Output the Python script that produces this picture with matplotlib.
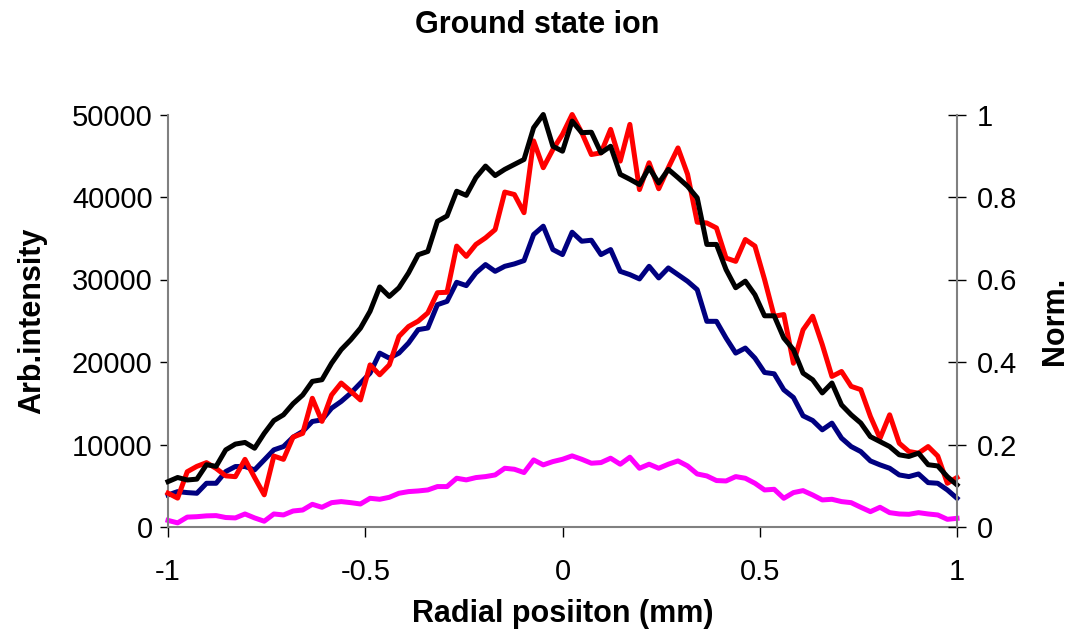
import matplotlib
matplotlib.use("Agg")
import matplotlib.pyplot as plt
import numpy as np
from matplotlib.ticker import FuncFormatter

plt.rcParams["font.family"] = ["Liberation Sans", "DejaVu Sans"]
plt.rcParams["axes.unicode_minus"] = False

# Radial scan: 83 equally spaced positions from -1 to 1 mm
radial_mm = np.linspace(-1, 1, 83)

# Arb. intensity (left axis)
navy_counts = [
    3880, 4290, 4170, 4090, 5300, 5300, 6720, 7330, 7330, 6920,
    8130, 9350, 9750, 10890, 11580, 12790, 12990, 14400, 15220, 16230,
    17440, 18650, 21080, 20470, 21080, 22300, 23920, 24120, 26950, 27350,
    29660, 29260, 30800, 31810, 30990, 31600, 31890, 32290, 35450, 36460,
    33630, 33020, 35730, 34640, 34760, 33020, 33630, 30990, 30590, 30070,
    31600, 30190, 31400, 30590, 29780, 28770, 24930, 24930, 22900, 21080,
    21690, 20470, 18730, 18570, 16630, 15700, 13480, 12910, 11780, 12590,
    10770, 9750, 9140, 8010, 7530, 7120, 6310, 6110, 6430, 5380,
    5300, 4490, 3480,
]
magenta_counts = [
    800, 500, 1200, 1250, 1350, 1380, 1150, 1100, 1580, 1100,
    700, 1580, 1460, 1940, 2060, 2750, 2390, 2950, 3080, 2950,
    2790, 3480, 3360, 3600, 4090, 4290, 4370, 4490, 4900, 4900,
    5910, 5710, 5990, 6110, 6310, 7120, 7000, 6600, 8130, 7530,
    7930, 8210, 8620, 8210, 7730, 7810, 8340, 7610, 8460, 7120,
    7610, 7120, 7610, 8010, 7400, 6430, 6190, 5630, 5580, 6110,
    5910, 5300, 4490, 4570, 3480, 4170, 4410, 3880, 3280, 3360,
    3080, 2950, 2390, 1860, 2390, 1740, 1580, 1540, 1740, 1580,
    1460, 930, 1050,
]

# Normalised profiles (right axis)
red_norm = [
    0.082, 0.070, 0.134, 0.147, 0.156, 0.142, 0.124, 0.122, 0.164, 0.120,
    0.078, 0.172, 0.164, 0.218, 0.227, 0.312, 0.256, 0.320, 0.349, 0.329,
    0.308, 0.393, 0.369, 0.393, 0.462, 0.486, 0.499, 0.519, 0.568, 0.569,
    0.681, 0.656, 0.685, 0.701, 0.721, 0.812, 0.806, 0.762, 0.936, 0.871,
    0.915, 0.952, 1.000, 0.956, 0.903, 0.907, 0.964, 0.887, 0.976, 0.818,
    0.883, 0.820, 0.871, 0.919, 0.855, 0.739, 0.737, 0.725, 0.652, 0.644,
    0.697, 0.681, 0.600, 0.511, 0.515, 0.397, 0.478, 0.511, 0.442, 0.365,
    0.377, 0.341, 0.333, 0.268, 0.215, 0.272, 0.203, 0.183, 0.179, 0.195,
    0.172, 0.106, 0.120,
]
black_norm = [
    0.110, 0.120, 0.114, 0.116, 0.151, 0.147, 0.187, 0.201, 0.205, 0.191,
    0.227, 0.258, 0.272, 0.299, 0.320, 0.353, 0.357, 0.397, 0.430, 0.454,
    0.482, 0.523, 0.582, 0.559, 0.580, 0.616, 0.660, 0.668, 0.741, 0.754,
    0.814, 0.804, 0.847, 0.875, 0.852, 0.867, 0.879, 0.891, 0.968, 1.000,
    0.923, 0.911, 0.984, 0.956, 0.957, 0.907, 0.923, 0.855, 0.843, 0.830,
    0.871, 0.834, 0.867, 0.847, 0.826, 0.798, 0.685, 0.685, 0.624, 0.580,
    0.596, 0.563, 0.512, 0.512, 0.458, 0.430, 0.373, 0.357, 0.325, 0.349,
    0.296, 0.272, 0.252, 0.219, 0.207, 0.195, 0.175, 0.171, 0.179, 0.151,
    0.148, 0.122, 0.102,
]

x_ticks = [-1, -0.5, 0, 0.5, 1]
left_ticks = [0, 10000, 20000, 30000, 40000, 50000]
right_ticks = [0, 0.2, 0.4, 0.6, 0.8, 1]

fig = plt.figure(figsize=(10.75, 6.32), dpi=100)
ax = fig.add_axes([168 / 1075, 1 - 527 / 632, (957 - 168) / 1075, (527 - 114.5) / 632])
ax2 = ax.twinx()

lw = 3.6
ax.plot(radial_mm, magenta_counts, color="#FF00FF", lw=lw, clip_on=False)
ax.plot(radial_mm, navy_counts, color="#000080", lw=lw, clip_on=False)
ax2.plot(radial_mm, red_norm, color="#FF0000", lw=lw, clip_on=False)
ax2.plot(radial_mm, black_norm, color="black", lw=lw, clip_on=False)

ax.set_xlim(-1, 1)
ax.set_ylim(0, 50000)
ax2.set_ylim(0, 1)
ax.set_xticks(x_ticks)
ax.set_xticklabels(["%g" % t for t in x_ticks])
ax.set_yticks(left_ticks)
ax2.set_yticks(right_ticks)
ax2.yaxis.set_major_formatter(FuncFormatter(lambda v, p: "%g" % v))

# Spines: grey frame on three sides, no top
for a in (ax, ax2):
    a.spines["top"].set_visible(False)
    for s in ("left", "right", "bottom"):
        a.spines[s].set_color("#808080")
        a.spines[s].set_linewidth(1.5)
ax2.spines["left"].set_visible(False)
ax2.spines["bottom"].set_visible(False)
ax.spines["right"].set_visible(False)

ax.tick_params(axis="x", direction="out", length=7, width=1, labelsize=21, pad=15)
ax.tick_params(axis="y", direction="out", length=6, width=1, labelsize=21, pad=5)
ax2.tick_params(axis="y", direction="inout", length=13, width=1, labelsize=21, pad=8)

ax.set_xlabel("Radial posiiton (mm)", fontsize=22, fontweight="bold", labelpad=10)
ax.set_ylabel("Arb.intensity", fontsize=22, fontweight="bold", labelpad=18)
ax2.set_ylabel("Norm.", fontsize=22, fontweight="bold", labelpad=16)

fig.text(0.5, 1 - 25 / 632, "Ground state ion", ha="center", va="center",
         fontsize=22, fontweight="bold")

fig.savefig("out.png", dpi=100)
